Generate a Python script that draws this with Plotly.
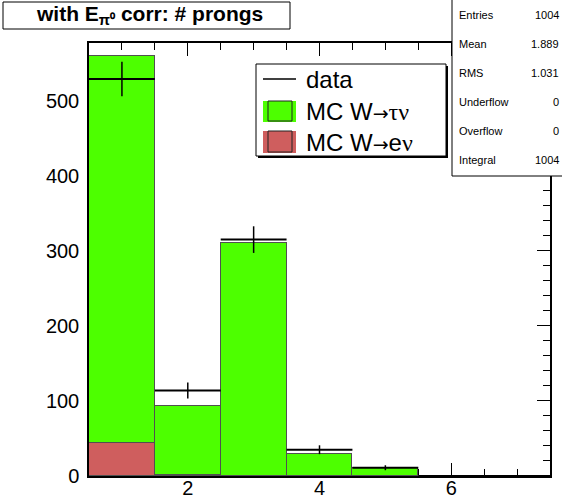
import math
import plotly.graph_objects as go

# Histogram content: number of prongs, bins centred on 1..7
prongs = [1, 2, 3, 4, 5, 6, 7]
data_counts = [529, 114, 315, 35, 11, 0, 0]
mc_tau = [516, 92, 311, 29, 11, 0, 0]
mc_e = [44, 1, 0, 0, 0, 0, 0]

stat_names = ["Entries", "Mean", "RMS", "Underflow", "Overflow", "Integral"]
stat_values = ["1004", "1.889", "1.031", "0", "0", "1004"]

SERIF = "font-family:'Liberation Serif', 'Times New Roman', serif"
ARROW = "<span style=\"font-family:'DejaVu Sans';font-size:19px\">\u2192</span>"
legend_labels = [
    "data",
    "MC W" + ARROW + "<span style=\"%s\">\u03c4\u03bd</span>" % SERIF,
    "MC W" + ARROW + "e<span style=\"%s\">\u03bd</span>" % SERIF,
]

GREEN = "#4dff00"
RED = "#cf5e5e"
OUTLINE = "#505050"
FONT = "Liberation Sans, Arial, sans-serif"

W, H = 562, 502
L, R, T, B = 89, 550, 43, 476


def fx(px):
    return (px - L) / (R - L)


def fy(py):
    return (B - py) / (B - T)


fig = go.Figure()

fig.add_trace(go.Bar(
    x=prongs, y=mc_e, width=1.0, marker=dict(color=RED, line=dict(color=OUTLINE, width=1)),
    showlegend=False, hoverinfo="skip"))
fig.add_trace(go.Bar(
    x=prongs, y=mc_tau, width=1.0, marker=dict(color=GREEN, line=dict(color=OUTLINE, width=1)),
    showlegend=False, hoverinfo="skip"))

fig.add_trace(go.Scatter(
    x=prongs, y=data_counts, mode="markers",
    marker=dict(size=1, color="black"),
    error_x=dict(type="constant", value=0.5, width=0, thickness=2, color="black"),
    error_y=dict(type="data", array=[math.sqrt(v) for v in data_counts], width=0,
                 thickness=1.5, color="black"),
    showlegend=False, hoverinfo="skip", cliponaxis=False))

shapes = []
annotations = []

# title box
shapes.append(dict(type="rect", xref="paper", yref="paper", x0=fx(3), x1=fx(290), y0=fy(29), y1=fy(2),
                   line=dict(color="black", width=1), fillcolor="white", layer="above"))
annotations.append(dict(xref="paper", yref="paper", x=fx(149), y=fy(15.5), xanchor="center", yanchor="middle",
                        text="<b>with E<sub>\u03c0\u2070</sub> corr: # prongs</b>", showarrow=False,
                        font=dict(family=FONT, size=21, color="black")))

# legend box
shapes.append(dict(type="rect", xref="paper", yref="paper", x0=fx(258), x1=fx(448), y0=fy(158), y1=fy(66),
                   line=dict(color="black", width=0), fillcolor="black", layer="above"))
shapes.append(dict(type="rect", xref="paper", yref="paper", x0=fx(256), x1=fx(446), y0=fy(156), y1=fy(64),
                   line=dict(color="black", width=1), fillcolor="white", layer="above"))
shapes.append(dict(type="line", xref="paper", yref="paper", x0=fx(263), x1=fx(296), y0=fy(79), y1=fy(79),
                   line=dict(color="black", width=1.5), layer="above"))
for (ytop, ybot, col) in [(101, 122, GREEN), (131, 153, RED)]:
    shapes.append(dict(type="rect", xref="paper", yref="paper", x0=fx(263), x1=fx(296), y0=fy(ybot), y1=fy(ytop),
                       line=dict(width=0), fillcolor=col, layer="above"))
    shapes.append(dict(type="rect", xref="paper", yref="paper", x0=fx(268), x1=fx(292), y0=fy(ybot - 1),
                       y1=fy(ytop), line=dict(color="#222222", width=1), fillcolor="rgba(0,0,0,0)",
                       layer="above"))
for label, yc in zip(legend_labels, [79, 112, 142]):
    annotations.append(dict(xref="paper", yref="paper", x=fx(304), y=fy(yc), xanchor="left", yanchor="middle",
                            text=label, showarrow=False, font=dict(family=FONT, size=24, color="black")))

# statistics box
shapes.append(dict(type="rect", xref="paper", yref="paper", x0=fx(452), x1=fx(566), y0=fy(176), y1=fy(-2),
                   line=dict(color="black", width=1), fillcolor="white", layer="above"))
for i, (name, val) in enumerate(zip(stat_names, stat_values)):
    yc = 15 + 29 * i
    annotations.append(dict(xref="paper", yref="paper", x=fx(457), y=fy(yc), xanchor="left", yanchor="middle",
                            text=name, showarrow=False, font=dict(family=FONT, size=11, color="black")))
    annotations.append(dict(xref="paper", yref="paper", x=fx(561), y=fy(yc), xanchor="right", yanchor="middle",
                            text=val, showarrow=False, font=dict(family=FONT, size=11, color="black")))

fig.update_layout(
    width=W, height=H,
    margin=dict(l=L, r=W - R, t=T, b=H - B, pad=0),
    paper_bgcolor="white", plot_bgcolor="white",
    barmode="stack", bargap=0,
    shapes=shapes, annotations=annotations,
    font=dict(family=FONT, color="black"),
)
fig.update_xaxes(
    range=[0.5, 7.5], tickvals=[2, 4, 6], ticks="inside", ticklen=13, tickwidth=1, tickcolor="black",
    minor=dict(dtick=0.5, tick0=0.5, ticks="inside", ticklen=7, tickcolor="black", showgrid=False),
    showline=True, linecolor="black", linewidth=1.5, mirror="ticks", showgrid=False, zeroline=False,
    tickfont=dict(family=FONT, size=20, color="black"), ticklabelstandoff=-7, layer="below traces",
    automargin=False)
fig.update_yaxes(
    range=[0, 577], dtick=100, ticks="inside", ticklen=13, tickwidth=1, tickcolor="black",
    minor=dict(dtick=20, ticks="inside", ticklen=7, tickcolor="black", showgrid=False),
    showline=True, linecolor="black", linewidth=1.5, mirror="ticks", showgrid=False, zeroline=False,
    tickfont=dict(family=FONT, size=20, color="black"), ticklabelstandoff=4, layer="below traces",
    automargin=False)

fig.write_html("out.html")
